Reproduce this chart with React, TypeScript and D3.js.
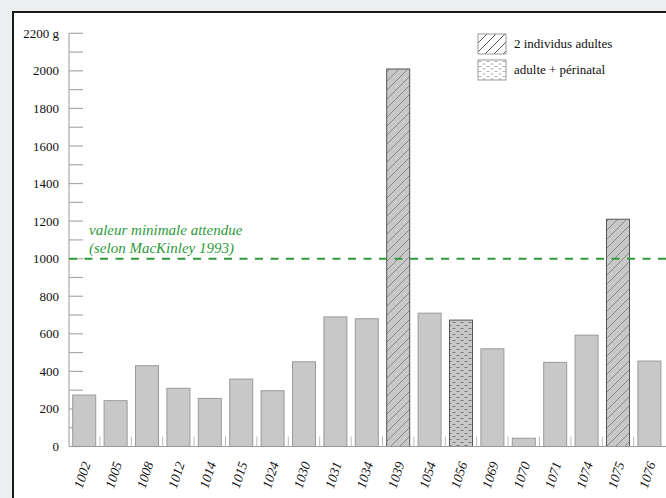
import React from "react";
import * as d3 from "d3";

const categories = ["1002","1005","1008","1012","1014","1015","1024","1030","1031","1034","1039","1054","1056","1069","1070","1071","1074","1075","1076"];
const weights = [274,244,430,310,256,359,297,451,690,680,2010,710,673,520,44,448,593,1210,455];
const kinds = ["s","s","s","s","s","s","s","s","s","s","h","s","d","s","s","s","s","h","s"];
const yTicks = d3.range(0, 2201, 100);
const yLabels = [0,200,400,600,800,1000,1200,1400,1600,1800,2000];
const topLabel = "2200 g";
const refValue = 1000;
const refText = ["valeur minimale attendue", "(selon MacKinley 1993)"];
const legendItems = [
  { kind: "h", label: "2 individus adultes" },
  { kind: "d", label: "adulte + périnatal" },
];

const W = 666, H = 498;
const axisX = 69;
const serif = "'Liberation Serif', 'DejaVu Serif', serif";

export default function App() {
  const x = d3.scaleBand<string>().domain(categories).range([axisX, axisX + 595.6]).paddingInner(0.267).paddingOuter(0.118);
  const y = d3.scaleLinear().domain([0, 2200]).range([446.5, 33.3]);
  const step = x.step();
  const gap = step - x.bandwidth();
  const fillFor = (k: string) => (k === "h" ? "url(#hatch)" : k === "d" ? "url(#dots)" : "#c8c8c8");
  const strokeFor = (k: string) => (k === "s" ? "#9a9a9a" : "#555");
  return (
    <svg width={W} height={H} style={{ position: "fixed", left: 0, top: 0 }} fontFamily={serif}>
      <defs>
        <pattern id="hatch" patternUnits="userSpaceOnUse" width="9" height="9">
          <rect width="9" height="9" fill="#c8c8c8" />
          <path d="M-1,1 L1,-1 M0,9 L9,0 M8,10 L10,8" stroke="#777" strokeWidth="0.8" />
        </pattern>
        <pattern id="dots" patternUnits="userSpaceOnUse" width="8" height="6">
          <rect width="8" height="6" fill="#c8c8c8" />
          <path d="M0.5,1.5 L3.5,1.5 M4.5,4.5 L7.5,4.5" stroke="#777" strokeWidth="1" />
        </pattern>
        <pattern id="hatchL" patternUnits="userSpaceOnUse" width="9" height="9">
          <rect width="9" height="9" fill="#fff" />
          <path d="M-1,1 L1,-1 M0,9 L9,0 M8,10 L10,8" stroke="#444" strokeWidth="0.9" />
        </pattern>
        <pattern id="dotsL" patternUnits="userSpaceOnUse" width="8" height="5">
          <rect width="8" height="5" fill="#fff" />
          <path d="M0.5,1.5 L3.5,1.5 M4.5,4 L7.5,4" stroke="#999" strokeWidth="0.8" />
        </pattern>
      </defs>
      <rect x={0} y={0} width={W} height={H} fill="#ebeff0" />
      <rect x={13} y={12} width={W + 20} height={H + 20} fill="#fff" stroke="#1a1a1a" strokeWidth={2} />

      {/* y axis */}
      <line x1={axisX} x2={axisX} y1={y(2200)} y2={y(0)} stroke="#aaa" strokeWidth={1.2} />
      {yTicks.map((t) => (
        <line key={t} x1={axisX} x2={axisX + 14} y1={y(t)} y2={y(t)} stroke="#aaa" strokeWidth={1.2} />
      ))}
      {yLabels.map((t) => (
        <text key={t} x={59} y={y(t)} dy="0.35em" textAnchor="end" fontSize={13} fill="#111">{t}</text>
      ))}
      <text x={59} y={y(2200)} dy="0.35em" textAnchor="end" fontSize={13} fill="#111">{topLabel}</text>

      {/* bars */}
      {categories.map((c, i) => (
        <rect key={c} x={x(c)} y={y(weights[i])} width={x.bandwidth()} height={y(0) - y(weights[i])}
          fill={fillFor(kinds[i])} stroke={strokeFor(kinds[i])} strokeWidth={1} />
      ))}

      {/* x axis */}
      <line x1={axisX} x2={W} y1={y(0)} y2={y(0)} stroke="#999" strokeWidth={1.2} />
      {categories.slice(1).map((c) => (
        <line key={c} x1={(x(c) as number) - gap / 2} x2={(x(c) as number) - gap / 2} y1={y(0) - 10} y2={y(0)} stroke="#bbb" strokeWidth={1} />
      ))}
      {categories.map((c) => {
        const cx = (x(c) as number) + x.bandwidth() / 2 + 2;
        return (
          <text key={c} transform={`translate(${cx},462) rotate(-72)`} dy="0.35em" textAnchor="end" fontStyle="italic" fontSize={13.5} fill="#111">{c}</text>
        );
      })}

      {/* reference line */}
      <line x1={axisX} x2={W} y1={y(refValue)} y2={y(refValue)} stroke="#2e9a3c" strokeWidth={2} strokeDasharray="8 7.5" />
      {refText.map((t, i) => (
        <text key={i} x={89} y={235 + i * 18} fontStyle="italic" fontSize={15} fill="#2e9a3c">{t}</text>
      ))}

      {/* legend */}
      {legendItems.map((it, i) => (
        <g key={it.label} transform={`translate(478,${34 + i * 26})`}>
          <rect width={28} height={20} fill={it.kind === "h" ? "url(#hatchL)" : "url(#dotsL)"} stroke="#999" strokeWidth={1} />
          <text x={36} y={14} fontSize={13} fill="#111">{it.label}</text>
        </g>
      ))}
    </svg>
  );
}
